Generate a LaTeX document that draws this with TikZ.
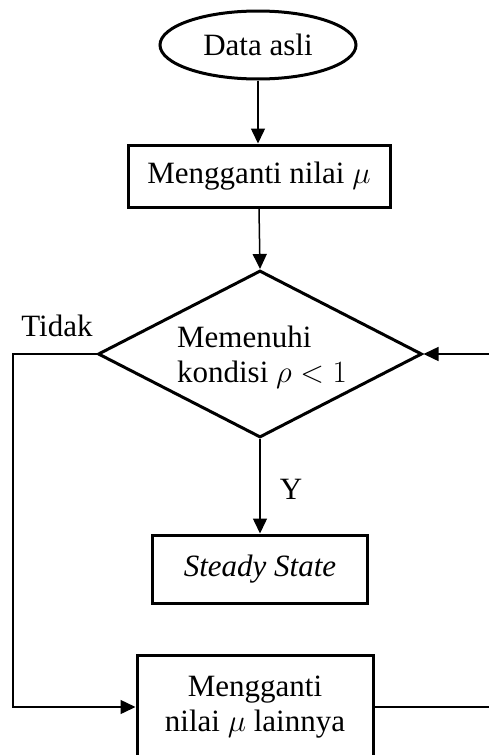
\RequirePackage{fix-cm}
\documentclass[tikz,border=0pt]{standalone}
\usepackage{fontspec}
\setmainfont{Liberation Serif}
\usetikzlibrary{shapes.geometric,arrows.meta}

\begin{document}
\begin{tikzpicture}[x=1pt,y=-1pt,
  every node/.style={font=\fontsize{31}{35}\selectfont},
  boxnode/.style={draw,line width=3pt,rectangle,inner sep=0pt},
  terminal/.style={draw,line width=3pt,ellipse,inner sep=0pt,minimum width=196pt,minimum height=68pt},
  decision/.style={draw,line width=3pt,diamond,inner sep=0pt,minimum width=324pt,minimum height=167pt},
  flow/.style={line width=1.5pt,-{Triangle[length=15pt,width=14pt]}},
  plain/.style={line width=1.5pt}]
  \useasboundingbox (0,0) rectangle (489,755);
  \clip (0,0) rectangle (489,755);

  % nodes
  \node[terminal] (start) at (258,45) {Data asli};
  \node[boxnode,minimum width=262pt,minimum height=62pt] (mu1) at (259,176) {Mengganti nilai $\mu$};
  \node[decision] (cond) at (260,354) {};
  \node[align=left] (condtext) at (262,357) {Memenuhi\\kondisi $\rho<1$};
  \node[boxnode,minimum width=215pt,minimum height=68pt] (steady) at (260,569) {\itshape Steady State};
  \node[boxnode,minimum width=236pt,minimum height=104pt,align=center] (mu2) at (255,707) {Mengganti\\nilai $\mu$ lainnya};

  % labels
  \node (tidak) at (57,326) {Tidak};
  \node (yes) at (291,489) {Y};

  % connectors
  \draw[flow] (start.south) -- (start.south |- mu1.north);
  \draw[flow] (mu1.south) -- (cond.north);
  \draw[flow] (cond.south) -- (steady.north);
  \coordinate (leftrail) at (13,354);
  \draw[flow] (cond.west) -- (leftrail) |- (mu2.west);
  \coordinate (rightrail) at (510,707);
  \draw[flow] (mu2.east) -- (rightrail) |- (cond.east);
\end{tikzpicture}
\end{document}
